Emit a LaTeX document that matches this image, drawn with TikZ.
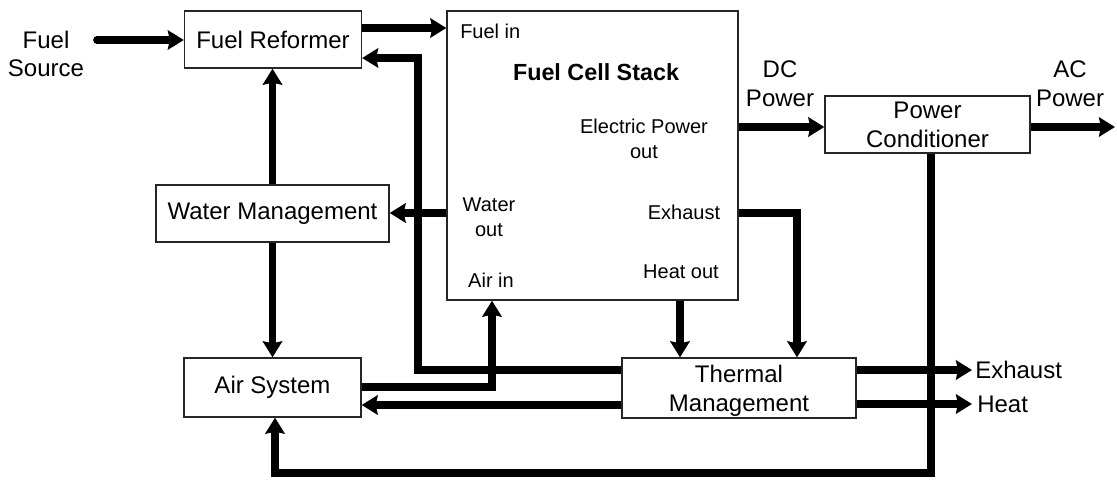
\documentclass[tikz,border=0pt]{standalone}
\usepackage{fontspec}
\setmainfont{Liberation Sans}
\usetikzlibrary{arrows.meta}
\begin{document}
\begin{tikzpicture}[x=0.75pt,y=-0.75pt,
  box/.style={draw=black!85,line width=1pt,fill=white,inner sep=0pt,align=center,
    font=\fontsize{18}{21.5}\selectfont},
  lbl/.style={inner sep=0pt,align=center,font=\fontsize{18}{21.5}\selectfont},
  small/.style={inner sep=0pt,align=center,font=\fontsize{15}{18.5}\selectfont},
  flow/.style={line width=5.8pt,line join=miter,-{Stealth[length=12pt,width=14.5pt,inset=1.5pt]}}]
\useasboundingbox (0,0) rectangle (1117,479);
% boxes
\node[box,minimum width=132.75pt,minimum height=42.75pt] (reformer) at (273,39.5) {Fuel Reformer};
\node[box,minimum width=218.25pt,minimum height=216.75pt] (stack) at (592.5,155.5) {};
\node[box,minimum width=153.75pt,minimum height=42.75pt,text depth=0pt] (pc) at (927.5,124.5) {Power\\Conditioner};
\node[box,minimum width=132.75pt,minimum height=44.25pt] (air) at (272.5,387.5) {Air System};
\node[box,minimum width=174.75pt,minimum height=42.75pt] (water) at (272.5,213.5) {Water Management};
\node[box,minimum width=175.5pt,minimum height=45pt,text depth=0pt] (thermal) at (739,388) {Thermal\\Management};
% labels inside stack
\node[small,anchor=west] (fuelin) at (460,31) {Fuel in};
\node[inner sep=0pt,font=\fontsize{17.5}{21}\selectfont\bfseries] (title) at (596,72) {Fuel Cell Stack};
\node[small] (elec) at (644,139) {Electric Power\\out};
\node[small] (wout) at (489,217) {Water\\out};
\node[small] (exin) at (684,212) {Exhaust};
\node[small] (airin) at (491,280) {Air in};
\node[small] (heatout) at (681,272) {Heat out};
% outside labels
\node[lbl] (fuelsrc) at (46,54) {Fuel\\Source};
\node[lbl] (dc) at (780,84) {DC\\Power};
\node[lbl] (ac) at (1070,84) {AC\\Power};
\node[lbl,anchor=west] (exout) at (975,370) {Exhaust};
\node[lbl,anchor=west] (heat) at (977,404) {Heat};
% free ends
\coordinate (fs) at (97,40);
\coordinate (acend) at (1115,127);
\coordinate (exend) at (972,370);
\coordinate (heatend) at (972,404);
% connectors
\draw[flow,line cap=round] (fs) -- (fs -| reformer.west);
\draw[flow] (reformer.east |- 0,28) -- (stack.west |- 0,28);
\draw[flow] (thermal.west |- 0,370) -| (418,58) -- (reformer.east |- 0,58);
\draw[flow] (stack.west |- 0,213) -- (water.east |- 0,213);
\draw[flow] (water.north) -- (water.north |- reformer.south);
\draw[flow] (water.south) -- (air.north);
\draw[flow] (air.east |- 0,387) -| (stack.south -| 492,0);
\draw[flow] (thermal.west |- 0,405) -- (air.east |- 0,405);
\draw[flow] (pc.south -| 931,0) |- (275,473) -- (air.south -| 275,0);
\draw[flow] (stack.south -| 680,0) -- (thermal.north -| 680,0);
\draw[flow] (stack.east |- 0,213) -| (thermal.north -| 797,0);
\draw[flow] (stack.east |- 0,127) -- (pc.west |- 0,127);
\draw[flow] (pc.east |- 0,127) -- (acend);
\draw[flow] (thermal.east |- 0,370) -- (exend);
\draw[flow] (thermal.east |- 0,404) -- (heatend);
\end{tikzpicture}
\end{document}
